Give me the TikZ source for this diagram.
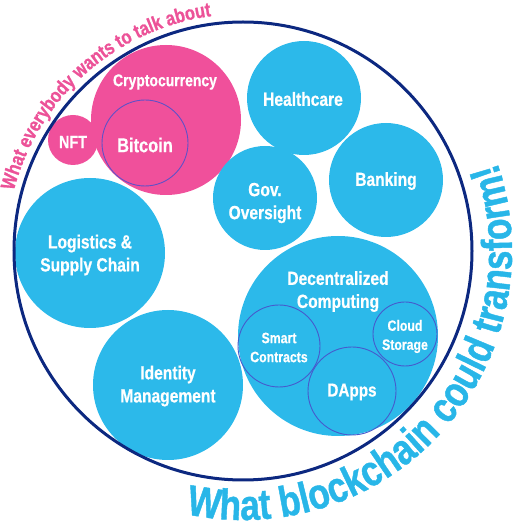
\documentclass[tikz,border=0pt]{standalone}
\usepackage{fontspec}
\usetikzlibrary{decorations.text}
\newfontfamily\nfont{Liberation Sans Bold}[FakeStretch=0.82,FakeBold=0.6]
\newfontfamily\afont{Liberation Sans Bold}[FakeStretch=0.82,FakeBold=1]
\definecolor{bubblue}{RGB}{44,185,234}
\definecolor{bubpink}{RGB}{240,80,155}
\definecolor{pinktxt}{RGB}{236,82,152}
\definecolor{bluetxt}{RGB}{40,182,232}
\definecolor{ringnavy}{RGB}{12,40,128}
\definecolor{innerline}{RGB}{70,90,205}
\definecolor{btcline}{RGB}{95,80,200}
\begin{document}
\begin{tikzpicture}[x=1pt,y=1pt,
  bubble/.style={circle,inner sep=0pt,fill=bubblue,minimum size=#1},
  pbubble/.style={circle,inner sep=0pt,fill=bubpink,minimum size=#1},
  inner/.style={circle,inner sep=0pt,draw=innerline,line width=0.9pt,minimum size=#1},
  lbl/.style={text=white,align=center,inner sep=0pt,font=\nfont\fontsize{#1}{#1}\selectfont},
  lbl2/.style={text=white,align=center,inner sep=0pt,font=\nfont\fontsize{19}{23}\selectfont},
  lbls/.style={text=white,align=center,inner sep=0pt,font=\nfont\fontsize{15}{19}\selectfont}]
\useasboundingbox (0,0) rectangle (512,528);
\coordinate (c) at (243,277);
% pink bubbles
\node[pbubble=150pt] (crypto) at (166,408) {};
\node[lbl=17] (cryptot) at (165,446) {Cryptocurrency};
\node[inner=86pt,draw=btcline] (btc) at (145,385) {};
\node[lbl=20] (btct) at (145,383) {Bitcoin};
\node[pbubble=50pt] (nft) at (73,388) {};
\node[lbl=17.5] (nftt) at (73,386) {NFT};
% blue bubbles
\node[bubble=114pt] (health) at (304,430) {};
\node[lbl=19] (healtht) at (303,429) {Healthcare};
\node[bubble=114pt] (bank) at (386,348) {};
\node[lbl=19] (bankt) at (386,347) {Banking};
\node[bubble=104pt] (gov) at (265,330) {};
\node[lbl2] (govt) at (265,325) {Gov.\\Oversight};
\node[bubble=150pt] (logi) at (90,275) {};
\node[lbl2] (logit) at (90,273) {Logistics \&\\Supply Chain};
\node[bubble=150pt] (ident) at (168,143) {};
\node[lbl2] (identt) at (168,142) {Identity\\Management};
\node[bubble=200pt] (dec) at (338,192) {};
\node[lbl2] (dect) at (338,236.5) {Decentralized\\Computing};
\node[inner=82pt] (smart) at (279,182) {};
\node[lbls] (smartt) at (279,180.5) {Smart\\Contracts};
\node[inner=64pt] (cloud) at (405,194) {};
\node[lbls] (cloudt) at (405,191.5) {Cloud\\Storage};
\node[inner=88pt] (dapps) at (352,137) {};
\node[lbl=18.6] (dappst) at (352,136) {DApps};
% ring
\draw[ringnavy,line width=3pt] (c) circle[radius=229];
% arc texts
\path[decorate,decoration={text along path,text align=center,
  text={|\afont\fontsize{20}{20}\selectfont\color{pinktxt}|What everybody wants to talk about}}]
  ([shift={(211.5:237)}]c) arc[start angle=211.5,end angle=51.5,radius=237];
\path[decorate,decoration={text along path,text align=center,
  text={|\afont\fontsize{43}{43}\selectfont\color{bluetxt}|What blockchain could transform!}}]
  ([shift={(228.5:269)}]c) arc[start angle=228.5,end angle=408.5,radius=269];
\end{tikzpicture}
\end{document}
